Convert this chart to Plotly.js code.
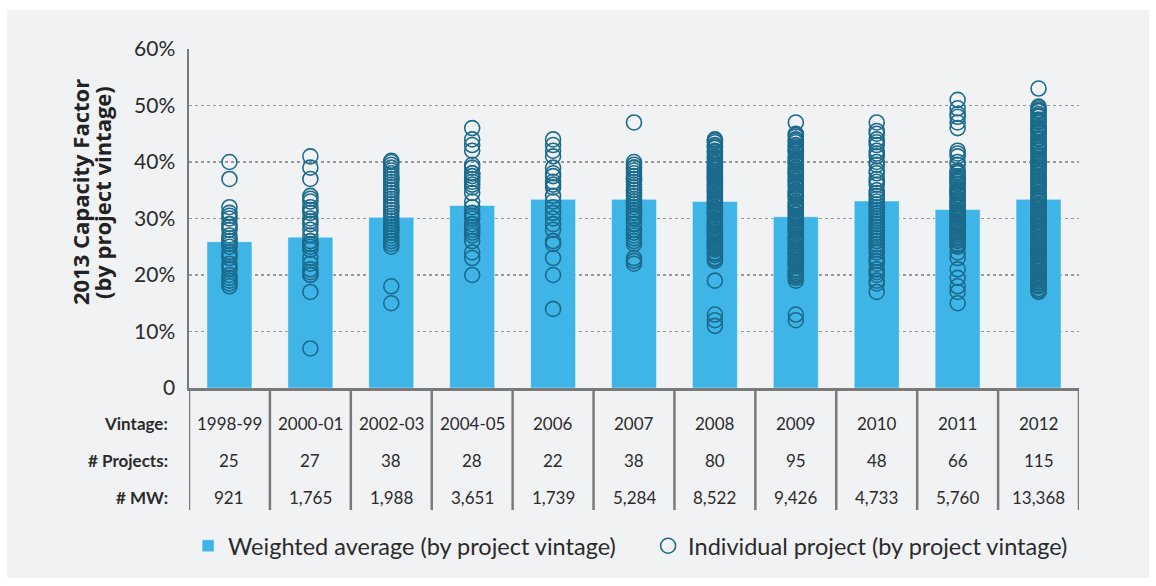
<!DOCTYPE html>
<html>
<head>
<meta charset="utf-8">
<script src="https://cdn.plot.ly/plotly-3.0.1.min.js"></script>
<style>
  body { margin: 0; background: #ffffff; }
  #chart { position: absolute; left: 7px; top: 10px; width: 1142px; height: 568px; }
</style>
</head>
<body>
<div id="chart"></div>
<script>
// vintages and table rows
const vintages = ['1998-99', '2000-01', '2002-03', '2004-05', '2006', '2007', '2008', '2009', '2010', '2011', '2012'];
const projectCounts = ['25', '27', '38', '28', '22', '38', '80', '95', '48', '66', '115'];
const megawatts = ['921', '1,765', '1,988', '3,651', '1,739', '5,284', '8,522', '9,426', '4,733', '5,760', '13,368'];

// weighted average capacity factor (%), by vintage
const weightedAvg = [25.9, 26.7, 30.2, 32.3, 33.4, 33.4, 33.0, 30.3, 33.1, 31.6, 33.4];

// individual project capacity factors (%)
const cf_1998 = [40, 37, 32, 31, 30.5, 30, 29, 28.5, 28, 27, 26.5, 26, 25.5, 25, 24, 23.5, 23, 22, 21.5, 21, 20, 19.5, 19, 18.5, 18];
const cf_2000 = [41, 39, 37, 34, 33.5, 33, 32, 31.5, 31, 30, 29.5, 29, 28, 27, 26, 25.5, 25.5, 25, 24.5, 23, 22, 21, 20.5, 20, 20, 17, 7];
const cf_2002 = [40.2, 40, 39.5, 39, 38.5, 38, 37.5, 37, 36.5, 36, 35.5, 35, 34.5, 34, 33.5, 33, 32.5, 32, 31.5, 31,
  30.5, 30, 29.5, 29, 28.5, 28, 27.5, 27, 26.5, 26, 25.5, 25, 37, 35, 32, 28, 18, 15];
const cf_2004 = [46, 44, 43, 42, 39.5, 39, 38, 37.5, 37, 36.5, 36, 35.5, 34.5, 33, 32, 31, 30.5, 30, 29, 28.5, 28, 27.5, 27, 26, 24, 23, 20, 38];
const cf_2006 = [44, 43, 42, 41, 39, 38, 37.5, 36.5, 36, 35.5, 34, 33, 32, 31, 30, 29, 28, 26, 25.5, 23, 20, 14];
const cf_2007 = [47, 40, 39.5, 39, 38.5, 38, 37.5, 37, 36.5, 36, 35.5, 35, 34.5, 34, 33.5, 33, 32.5, 32, 31.5, 31,
  30.5, 30, 39, 37, 35, 33, 31, 29, 28, 27.5, 27, 26.5, 26, 25.5, 23, 22.5, 22, 30];
const cf_2008 = [44, 43.5, 43, 42.5, 42, 41.5, 41, 40.5, 40, 39.5, 39, 38.5, 38, 37.5, 37, 36.5, 36, 35.5, 35, 34.5,
  34, 33.5, 33, 32.5, 32, 31.5, 31, 30.5, 30, 29.5, 29, 28.5, 28, 27.5, 27, 26.5, 26, 25.5, 25, 24.5,
  24, 23.5, 23, 22.5, 43.8, 42.8, 41.8, 40.8, 39.8, 38.8, 37.8, 36.8, 35.8, 34.8, 33.8, 32.8, 31.8, 30.8,
  29.8, 28.8, 27.8, 26.8, 25.8, 24.8, 23.8, 22.8, 39.2, 37.2, 35.2, 33.2, 31.2, 29.2, 27.2, 25.2, 38.2, 36.2,
  19, 13, 12, 11];
const cf_2009 = [47, 45, 44.5, 44, 43.5, 43, 42.5, 42, 41.5, 41, 40.5, 40, 39.5, 39, 38.5, 38, 37.5, 37, 36.5, 36,
  35.5, 35, 34.5, 34, 33.5, 33, 32.5, 32, 31.5, 31, 30.5, 30, 29.5, 29, 28.5, 28, 27.5, 27, 26.5, 26,
  25.5, 25, 24.5, 24, 23.5, 23, 22.5, 22, 21.5, 21, 20.5, 20, 19.5, 19, 44.8, 43.8, 42.8, 41.8, 40.8, 39.8,
  38.8, 37.8, 36.8, 35.8, 34.8, 33.8, 32.8, 31.8, 30.8, 29.8, 28.8, 27.8, 26.8, 25.8, 24.8, 23.8, 22.8, 21.8,
  20.8, 19.8, 42.2, 40.2, 38.2, 36.2, 34.2, 32.2, 30.2, 28.2, 26.2, 24.2, 22.2, 20.2, 13, 12];
const cf_2010 = [47, 45.5, 45, 44, 43.5, 43, 42, 41.5, 41, 40, 39.5, 38.5, 38, 37, 36.5, 36, 35, 34.5, 34, 33,
  32.5, 32, 31, 30.5, 30, 29.5, 29, 28, 27.5, 27, 26.5, 26, 25, 24.5, 24, 23, 22.5, 22, 21, 20.5,
  20, 19, 18.5, 17, 33.5, 31.5, 28.5, 25.5];
const cf_2011 = [51, 49.5, 48.5, 48, 47, 46, 42, 41.5, 41, 40, 39.5, 38.5, 38, 37.5, 37, 36.5, 36, 35.5, 35, 34.5,
  34, 33.5, 33, 32.5, 32, 31.5, 31, 30.5, 30, 29.5, 29, 28.5, 28, 27.5, 27, 26.5, 26, 25.5, 25, 38.2,
  37.2, 36.2, 35.2, 34.2, 33.2, 32.2, 31.2, 30.2, 29.2, 28.2, 27.2, 26.2, 25.2, 36.7, 34.7, 32.7, 30.7, 28.7, 26.7,
  24, 23, 21, 19.5, 18, 17, 15];
const cf_2012 = [53, 49.8, 49.5, 49, 48.5, 48, 47.5, 47, 46.5, 46, 45.5, 45, 44.5, 44, 43.5, 43, 42.5, 42, 41.5, 41,
  40.5, 40, 39.5, 39, 38.5, 38, 37.5, 37, 36.5, 36, 35.5, 35, 34.5, 34, 33.5, 33, 32.5, 32, 31.5, 31,
  30.5, 30, 29.5, 29, 28.5, 28, 27.5, 27, 26.5, 26, 25.5, 25, 24.5, 24, 23.5, 23, 22.5, 22, 21.5, 21,
  20.5, 20, 19.5, 19, 18.5, 18, 17.5, 17, 49.2, 48.2, 47.2, 46.2, 45.2, 44.2, 43.2, 42.2, 41.2, 40.2, 39.2, 38.2,
  37.2, 36.2, 35.2, 34.2, 33.2, 32.2, 31.2, 30.2, 29.2, 28.2, 27.2, 26.2, 25.2, 24.2, 23.2, 22.2, 21.2, 20.2, 19.2,
  18.2, 17.2, 45.7, 42.7, 39.7, 36.7, 33.7, 30.7, 27.7, 24.7, 21.7, 18.7, 38.7, 35.7, 29.7, 23.7];

const projectValues = [cf_1998, cf_2000, cf_2002, cf_2004, cf_2006, cf_2007, cf_2008, cf_2009, cf_2010, cf_2011, cf_2012];

const yTickVals = [0, 10, 20, 30, 40, 50, 60];
const yTickText = ['0', '10%', '20%', '30%', '40%', '50%', '60%'];
const rowLabels = ['Vintage:', '# Projects:', '# MW:'];
const yTitleLines = ['2013 Capacity Factor', '(by project vintage)'];

const FONT = 'Lato, "Open Sans", sans-serif';
const TEXT = '#2b2b2b';
const LINE = '#7a7a7a';

let px = [];
let py = [];
projectValues.forEach(function (vals, i) {
  vals.forEach(function (v) {
    px.push(vintages[i]);
    py.push(v);
  });
});

let barTrace = {
  x: vintages,
  y: weightedAvg,
  type: 'bar',
  name: 'Weighted average (by project vintage)',
  marker: { color: '#3fb4e6', line: { color: 'rgba(255,255,255,0.45)', width: 1 } },
  hoverinfo: 'skip'
};

let pointTrace = {
  x: px,
  y: py,
  type: 'scatter',
  mode: 'markers',
  name: 'Individual project (by project vintage)',
  marker: { symbol: 'circle-open', size: 15, color: '#1c6b8c', line: { width: 1.6 } },
  hoverinfo: 'skip'
};

let annotations = [];

// y axis title, two rotated lines (sits a bit above the plot middle)
const titleX = [-0.1225, -0.0978];
yTitleLines.forEach(function (t, k) {
  annotations.push({
    xref: 'paper', yref: 'paper', x: titleX[k], y: 0.578,
    xanchor: 'center', yanchor: 'middle', textangle: -90, showarrow: false,
    text: '<b>' + t + '</b>', font: { family: '"Open Sans", sans-serif', size: 22, color: '#222' }
  });
});

// table below the axis
const rowY = [-0.106, -0.215, -0.322];
rowLabels.forEach(function (label, r) {
  annotations.push({
    xref: 'paper', yref: 'paper', x: -0.021, y: rowY[r],
    xanchor: 'right', yanchor: 'middle', showarrow: false,
    text: '<b>' + label + '</b>', font: { family: FONT, size: 17, color: TEXT }
  });
});
const rows = [vintages, projectCounts, megawatts];
rows.forEach(function (row, r) {
  row.forEach(function (t, i) {
    annotations.push({
      xref: 'x', yref: 'paper', x: i, y: rowY[r],
      xanchor: 'center', yanchor: 'middle', showarrow: false,
      text: t, font: { family: FONT, size: 17, color: TEXT }
    });
  });
});

let shapes = [];
for (let i = 0; i <= vintages.length; i++) {
  shapes.push({
    type: 'line', xref: 'x', yref: 'paper',
    x0: i - 0.5, x1: i - 0.5, y0: 0, y1: -0.36,
    line: { color: LINE, width: 2.5 }
  });
}

let layout = {
  width: 1142,
  height: 568,
  margin: { l: 182, r: 70, t: 39, b: 190, autoexpand: false },
  paper_bgcolor: '#f1f2f4',
  plot_bgcolor: '#f1f2f4',
  font: { family: FONT, color: TEXT },
  bargap: 0.444,
  showlegend: true,
  legend: {
    orientation: 'h', x: -0.001, xanchor: 'left', y: -0.466, yanchor: 'middle',
    font: { family: FONT, size: 23.5, color: TEXT },
    entrywidth: 415, entrywidthmode: 'pixels'
  },
  xaxis: {
    type: 'category',
    range: [-0.5, vintages.length - 0.5],
    showticklabels: false,
    showgrid: false,
    zeroline: false,
    showline: true,
    linecolor: LINE,
    linewidth: 3,
    ticks: ''
  },
  yaxis: {
    range: [0, 60],
    tickvals: yTickVals,
    ticktext: yTickText,
    tickfont: { family: FONT, size: 21, color: TEXT },
    ticks: 'outside',
    ticklen: 7,
    tickcolor: 'rgba(0,0,0,0)',
    showgrid: true,
    gridcolor: '#9a9a9a',
    griddash: 'dot',
    gridwidth: 1.2,
    zeroline: false,
    showline: true,
    linecolor: LINE,
    linewidth: 2.5
  },
  annotations: annotations,
  shapes: shapes
};

Plotly.newPlot('chart', [barTrace, pointTrace], layout, { staticPlot: true });
</script>
</body>
</html>
